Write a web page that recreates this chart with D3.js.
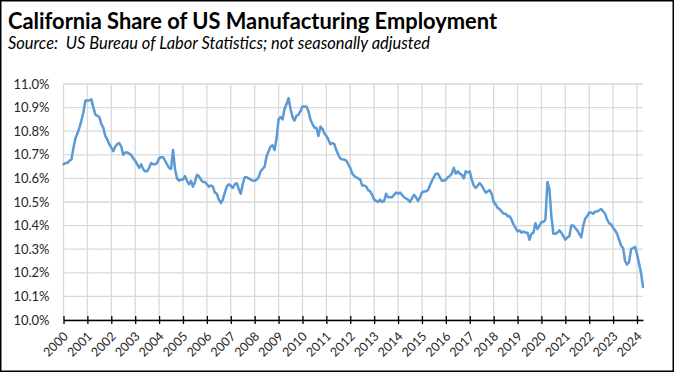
<!DOCTYPE html>
<html>
<head>
<meta charset="utf-8">
<script src="https://cdn.jsdelivr.net/npm/d3@7"></script>
<style>
  html, body { margin: 0; padding: 0; background: #fff; }
  svg { display: block; }
  text { font-family: Lato, "Noto Sans", sans-serif; }
</style>
</head>
<body>
<svg id="chart" width="674" height="372"></svg>
<script>
// ---- Data (California share of US manufacturing employment, %, monthly) ----
const years = ["2000","2001","2002","2003","2004","2005","2006","2007","2008","2009","2010","2011","2012",
               "2013","2014","2015","2016","2017","2018","2019","2020","2021","2022","2023","2024"];
const share2000 = [10.66,10.665,10.665,10.675,10.68,10.73,10.77,10.79,10.815,10.845,10.88,10.93];
const share2001 = [10.93,10.93,10.935,10.90,10.87,10.865,10.86,10.83,10.815,10.78,10.765,10.745];
const share2002 = [10.73,10.715,10.735,10.745,10.75,10.735,10.70,10.71,10.71,10.705,10.70,10.685];
const share2003 = [10.675,10.66,10.645,10.66,10.64,10.63,10.63,10.645,10.665,10.66,10.66,10.665];
const share2004 = [10.685,10.69,10.69,10.675,10.66,10.645,10.64,10.72,10.64,10.60,10.59,10.595];
const share2005 = [10.595,10.61,10.59,10.575,10.59,10.565,10.585,10.615,10.61,10.595,10.585,10.585];
const share2006 = [10.575,10.565,10.57,10.565,10.54,10.535,10.51,10.495,10.51,10.54,10.565,10.575];
const share2007 = [10.57,10.56,10.575,10.58,10.555,10.535,10.575,10.605,10.605,10.60,10.595,10.59];
const share2008 = [10.59,10.595,10.605,10.63,10.64,10.65,10.695,10.715,10.735,10.74,10.72,10.77];
const share2009 = [10.85,10.86,10.85,10.895,10.915,10.94,10.895,10.86,10.845,10.865,10.87,10.885];
const share2010 = [10.905,10.905,10.905,10.885,10.85,10.83,10.815,10.815,10.78,10.82,10.81,10.79];
const share2011 = [10.78,10.765,10.745,10.75,10.745,10.72,10.70,10.685,10.68,10.68,10.675,10.66];
const share2012 = [10.645,10.62,10.61,10.605,10.60,10.595,10.57,10.57,10.565,10.55,10.545,10.53];
const share2013 = [10.51,10.505,10.50,10.51,10.50,10.505,10.535,10.52,10.52,10.52,10.53,10.54];
const share2014 = [10.535,10.54,10.53,10.52,10.515,10.51,10.50,10.515,10.53,10.52,10.505,10.52];
const share2015 = [10.54,10.545,10.545,10.55,10.57,10.59,10.605,10.62,10.62,10.605,10.59,10.59];
const share2016 = [10.595,10.605,10.61,10.62,10.645,10.62,10.63,10.62,10.615,10.60,10.63,10.625];
const share2017 = [10.63,10.595,10.57,10.56,10.57,10.58,10.57,10.555,10.54,10.545,10.55,10.535];
const share2018 = [10.50,10.49,10.475,10.47,10.46,10.45,10.45,10.44,10.44,10.425,10.405,10.39];
const share2019 = [10.375,10.38,10.37,10.375,10.37,10.37,10.34,10.365,10.37,10.41,10.385,10.40];
const share2020 = [10.415,10.415,10.425,10.585,10.555,10.44,10.365,10.365,10.37,10.38,10.37,10.355];
const share2021 = [10.34,10.35,10.355,10.40,10.40,10.39,10.38,10.365,10.35,10.40,10.43,10.44];
const share2022 = [10.455,10.455,10.45,10.46,10.46,10.465,10.47,10.46,10.45,10.425,10.41,10.405];
const share2023 = [10.39,10.38,10.365,10.34,10.315,10.305,10.25,10.235,10.245,10.30,10.305,10.31];
const share2024 = [10.28,10.24,10.20,10.14];
const yTicks = [10.0,10.1,10.2,10.3,10.4,10.5,10.6,10.7,10.8,10.9,11.0];

const series = [].concat(share2000,share2001,share2002,share2003,share2004,share2005,share2006,
  share2007,share2008,share2009,share2010,share2011,share2012,share2013,share2014,share2015,
  share2016,share2017,share2018,share2019,share2020,share2021,share2022,share2023,share2024);

// ---- Layout ----
const W = 674, H = 372;
const plot = { left: 63.5, right: 643, top: 84, bottom: 320 };
const svg = d3.select("#chart");

svg.append("rect").attr("x", 0.75).attr("y", 0.75).attr("width", W - 1.5).attr("height", H - 1.5)
  .attr("fill", "#fff").attr("stroke", "#000").attr("stroke-width", 1.5);

const x = d3.scaleLinear().domain([0, series.length - 1]).range([plot.left, plot.right]);
const y = d3.scaleLinear().domain([10.0, 11.0]).range([plot.bottom, plot.top]);

const yearIdx = years.map((d, i) => i * 12);

// gridlines
const grid = svg.append("g").attr("stroke", "#d9d9d9").attr("stroke-width", 1.3);
grid.selectAll("line.h").data(yTicks).join("line")
  .attr("x1", plot.left).attr("x2", plot.right)
  .attr("y1", d => y(d)).attr("y2", d => y(d));
grid.selectAll("line.v").data(yearIdx).join("line")
  .attr("x1", d => x(d)).attr("x2", d => x(d))
  .attr("y1", plot.top).attr("y2", plot.bottom);

// y axis labels
const yAxis = d3.axisLeft(y).tickValues(yTicks).tickFormat(d => d.toFixed(1) + "%").tickSize(0).tickPadding(14);
const gy = svg.append("g").attr("transform", `translate(${plot.left},0)`).call(yAxis);
gy.select(".domain").remove();
gy.selectAll("text").attr("font-size", 13).attr("fill", "#262626")
  .attr("font-family", "Lato, 'Noto Sans', sans-serif");

// x axis
const xAxis = d3.axisBottom(x).tickValues(yearIdx).tickFormat((d, i) => years[i]).tickSizeInner(4).tickSizeOuter(0);
const gx = svg.append("g").attr("transform", `translate(0,${plot.bottom})`).call(xAxis);
gx.select(".domain").attr("stroke", "#000").attr("stroke-width", 1.5);
gx.selectAll(".tick line").attr("stroke", "#000").attr("stroke-width", 1.3).attr("y1", -4).attr("y2", 4);
gx.selectAll(".tick text")
  .attr("font-size", 12.5).attr("fill", "#262626")
  .attr("font-family", "Lato, 'Noto Sans', sans-serif")
  .attr("text-anchor", "end").attr("dy", null).attr("y", 0)
  .attr("transform", "translate(5,17) rotate(-45)");

// line
const line = d3.line().x((d, i) => x(i)).y(d => y(d));
svg.append("path").datum(series)
  .attr("fill", "none").attr("stroke", "#5B9BD5").attr("stroke-width", 2.5)
  .attr("stroke-linejoin", "round").attr("stroke-linecap", "round")
  .attr("d", line);

// titles
function fit(sel, target) {
  const len = sel.node().getComputedTextLength();
  const fs = parseFloat(sel.attr("font-size"));
  sel.attr("font-size", (fs * target / len).toFixed(2));
}
const title = svg.append("text").attr("x", 8).attr("y", 29)
  .attr("font-size", 22).attr("font-weight", "bold").attr("fill", "#000")
  .text("California Share of US Manufacturing Employment");
fit(title, 489);
const sub = svg.append("text").attr("x", 8).attr("y", 49)
  .attr("font-size", 14).attr("font-style", "italic").attr("fill", "#000")
  .style("white-space", "pre")
  .text("Source:  US Bureau of Labor Statistics; not seasonally adjusted");
fit(sub, 422);
</script>
</body>
</html>
